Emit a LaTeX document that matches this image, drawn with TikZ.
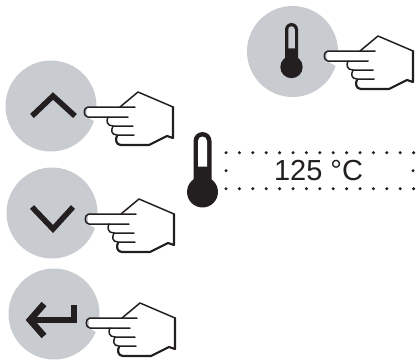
\documentclass[tikz,border=0pt]{standalone}
\usepackage{fontspec}
\setmainfont{Liberation Sans}
\definecolor{keygray}{RGB}{200,203,208}
\definecolor{inkblack}{RGB}{35,31,32}
\tikzset{
    keycircle/.style={circle, fill=keygray, minimum size=91pt, inner sep=0pt},
    glyph/.style={draw=inkblack, line width=5.5pt, miter limit=10},
    handline/.style={draw=inkblack, line width=1.5pt, line join=round, line cap=round},
    dotrow/.style={fill=inkblack, circle, minimum size=3.4pt, inner sep=0pt},
    readout/.style={font=\fontsize{29}{29}\selectfont, text=inkblack},
    pics/hand/.style={code={
        % outline of the back of the hand
        \fill[white] (3,-5) -- (36,-5) -- (54,-20) -- (89,-5) -- (89,26) -- (66,33) -- (37,33) -- (30,20) -- (3,5) -- cycle;
        \draw[handline] (36,-5) -- (54,-20) -- (89,-5);
        \draw[handline, line width=2.2pt] (89,-5) -- (89,26) -- (83,24) -- (65,33) -- (37,33)
            .. controls (32,33) and (31,27) .. (33,24);
        % index finger
        \draw[handline] (51,-5) -- (4,-5) .. controls (-1,-5) and (-1,5) .. (4,5) -- (44,5);
        % other fingers
        \draw[handline] (24,5) .. controls (22,9) and (23,14) .. (29,14) -- (49,14);
        \draw[handline] (29,14) .. controls (27,18) and (27,23) .. (33,23) -- (50,23);
    }},
    pics/thermo/.style n args={3}{code={
        % #1 half width, #2 length of the tube, #3 colour of the slit
        \fill[inkblack] (-#1,0) arc[start angle=180, end angle=360, radius=#1] -- (#1,#2) -- (-#1,#2) -- cycle;
        \fill[inkblack] (0,#2) circle[radius=1.72*#1];
        \fill[#3] (-0.5*#1,0) arc[start angle=180, end angle=360, radius=0.5*#1] -- (0.5*#1,0.5*#2) -- (-0.5*#1,0.5*#2) -- cycle;
    }},
}
\begin{document}
\begin{tikzpicture}[x=1pt, y=-1pt]
    \useasboundingbox (0,0) rectangle (417,359);

    \node[keycircle] (temp) at (292.5,51.5) {};
    \node[keycircle] (up) at (51,106) {};
    \node[keycircle] (down) at (52,213) {};
    \node[keycircle] (enter) at (54,314) {};

    % key symbols
    \pic at (291.5,29.5) {thermo={6.5}{37.5}{keygray}};
    \draw[glyph] (32,116) -- (53,96) -- (75,116);
    \draw[glyph] (32,207) -- (53,229) -- (73,207);
    \draw[glyph, line width=6.5pt] (74,305) -- (74,320) -- (32,320);
    \draw[glyph, line width=6.5pt] (44,304) -- (30,320) -- (44,336);

    % hands
    \pic at (324,56) {hand};
    \pic at (84,112) {hand};
    \pic at (85,219) {hand};
    \pic at (86,323) {hand};

    % display
    \pic at (202.5,141) {thermo={9}{51}{white}};
    \foreach \i in {0,...,14} {
        \node[dotrow] (top\i) at (226+13.4*\i,152.7) {};
        \node[dotrow] (bot\i) at (226+13.4*\i,188.7) {};
    }
    \node[dotrow] (left) at (226,170.7) {};
    \node[dotrow] (right) at (413,170.7) {};
    \node[readout] (value) at (318.5,171) {125 °C};
\end{tikzpicture}
\end{document}
